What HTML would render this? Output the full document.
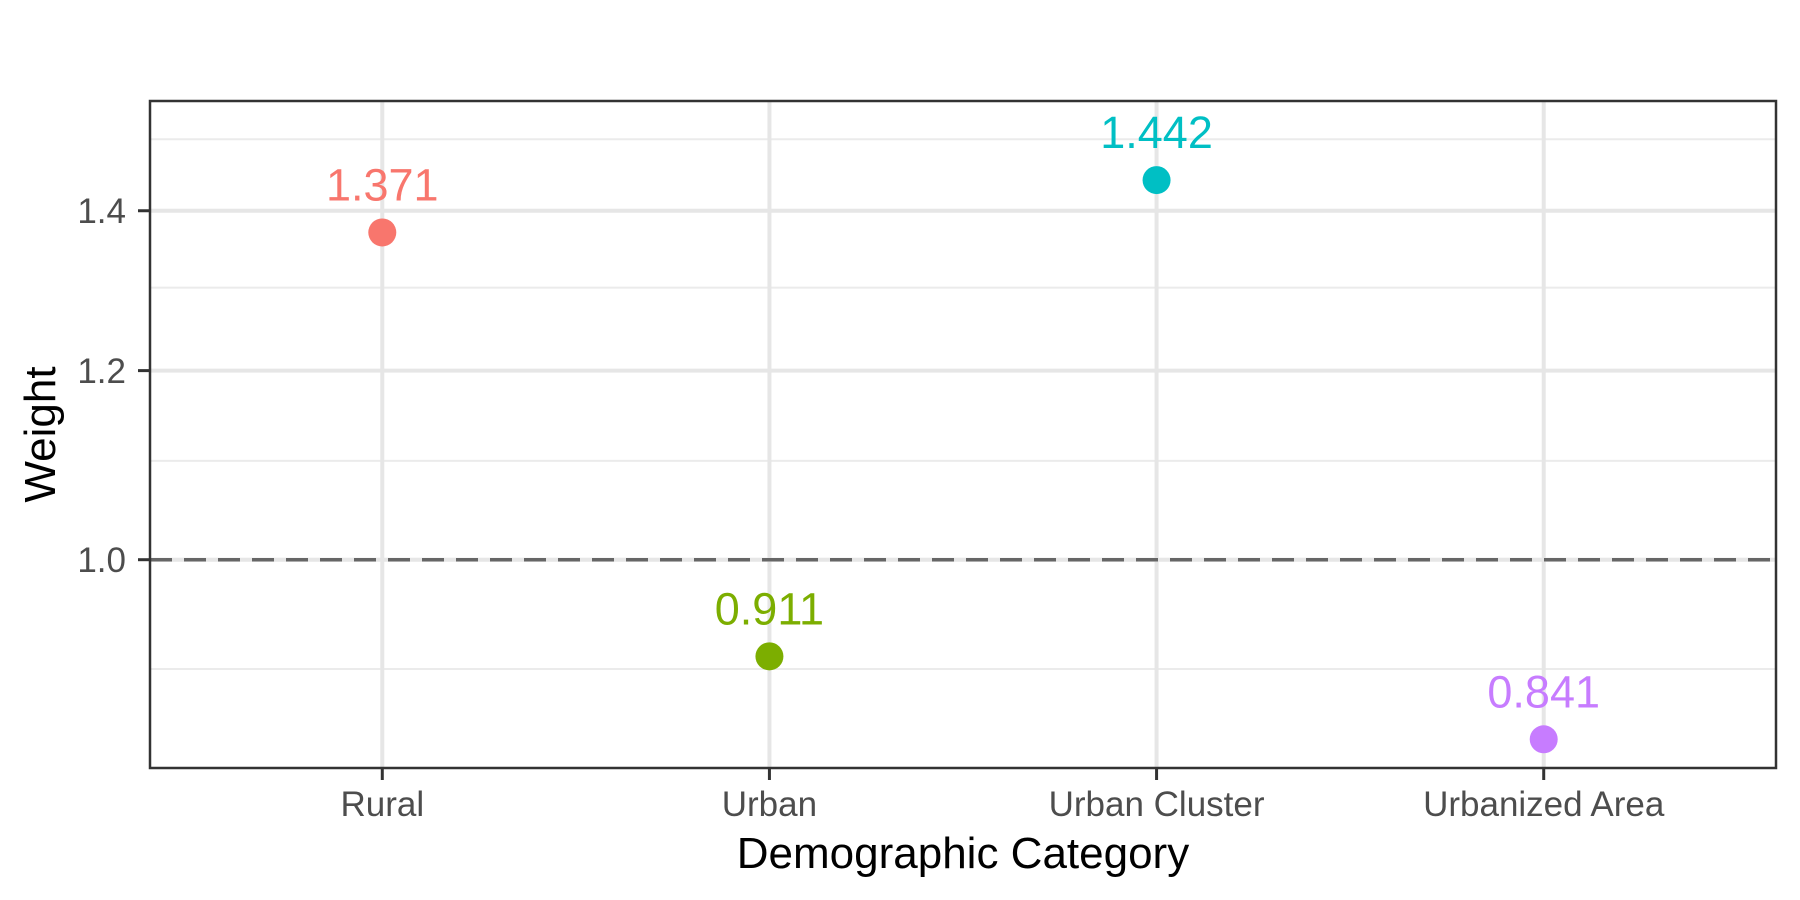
<!DOCTYPE html>
<html><head><meta charset="utf-8"><style>
html,body{margin:0;padding:0;background:#fff;}
svg{display:block;font-family:"Liberation Sans",Arial,sans-serif;}
</style></head><body>
<svg id="chart" width="1800" height="900" viewBox="0 0 1800 900"></svg>
<script>
const categories = ["Rural", "Urban", "Urban Cluster", "Urbanized Area"];
const weights = [1.371, 0.911, 1.442, 0.841];
const labels = ["1.371", "0.911", "1.442", "0.841"];
const colors = ["#F8766D", "#7CAE00", "#00BFC4", "#C77CFF"];
const majorTicks = [1.0, 1.2, 1.4];
const majorTickLabels = ["1.0", "1.2", "1.4"];
const minorTicks = [0.9, 1.1, 1.3, 1.5];
const refValue = 1.0;

const NS = "http://www.w3.org/2000/svg";
const svg = document.getElementById("chart");
const P = {l:150, r:1776, t:101, b:768};
const y1 = 559.7, k = 2388;
function yScale(v){ return y1 - k*Math.log10(v); }
const step = (P.r-P.l)/(categories.length - 1 + 1.2);
function xScale(i){ return P.l + step*(0.6 + i); }
function mk(tag, attrs, parent){
  const e = document.createElementNS(NS, tag);
  for (const a in attrs) e.setAttribute(a, attrs[a]);
  (parent||svg).appendChild(e);
  return e;
}
const clip = mk("clipPath",{id:"pc"});
mk("rect",{x:P.l,y:P.t,width:P.r-P.l,height:P.b-P.t},clip);
const grid = mk("g",{"clip-path":"url(#pc)"});


minorTicks.forEach(v=>{
  const l = mk("line",{x1:P.l,x2:P.r,y1:yScale(v),y2:yScale(v),stroke:"#ebebeb","stroke-width":2},grid);
  
  
});
majorTicks.forEach(v=>{
  const l = mk("line",{x1:P.l,x2:P.r,y1:yScale(v),y2:yScale(v),stroke:"#e6e6e6","stroke-width":4},grid);
  
  
});
categories.forEach((c,i)=>{
  const l = mk("line",{x1:xScale(i),x2:xScale(i),y1:P.t,y2:P.b,stroke:"#e6e6e6","stroke-width":4},grid);
  
  
});
const ref = mk("line",{x1:P.l,x2:P.r,y1:yScale(refValue),y2:yScale(refValue),stroke:"#666","stroke-width":3.5,"stroke-dasharray":"22,12"});


categories.forEach((c,i)=>{
  const cx = xScale(i), cy = yScale(weights[i]);
  const p = mk("circle",{cx:cx,cy:cy,r:14,fill:colors[i]});
  
  
  const t = mk("text",{x:cx,y:cy-32,"text-anchor":"middle","font-size":45,fill:colors[i]});
  t.textContent = labels[i];
  
  
});
const frame = mk("rect",{x:P.l,y:P.t,width:P.r-P.l,height:P.b-P.t,fill:"none",stroke:"#333","stroke-width":2.5});


majorTicks.forEach((v,i)=>{
  const y = yScale(v);
  const tk = mk("line",{x1:P.l-12,x2:P.l,y1:y,y2:y,stroke:"#333","stroke-width":3});
  
  
  const t = mk("text",{x:126,y:y+12.5,"text-anchor":"end","font-size":35,fill:"#4d4d4d"});
  t.textContent = majorTickLabels[i];
  
  
});
categories.forEach((c,i)=>{
  const x = xScale(i);
  const tk = mk("line",{x1:x,x2:x,y1:P.b,y2:P.b+12,stroke:"#333","stroke-width":3});
  
  
  const t = mk("text",{x:x,y:816,"text-anchor":"middle","font-size":35,fill:"#4d4d4d"});
  t.textContent = c;
  
  
});
const xt = mk("text",{x:(P.l+P.r)/2,y:868,"text-anchor":"middle","font-size":44,fill:"#000"});
xt.textContent = "Demographic Category";


const yt = mk("text",{x:0,y:0,"text-anchor":"middle","font-size":44,fill:"#000",transform:"translate(55,"+((P.t+P.b)/2)+") rotate(-90)"});
yt.textContent = "Weight";


</script>
</body></html>
